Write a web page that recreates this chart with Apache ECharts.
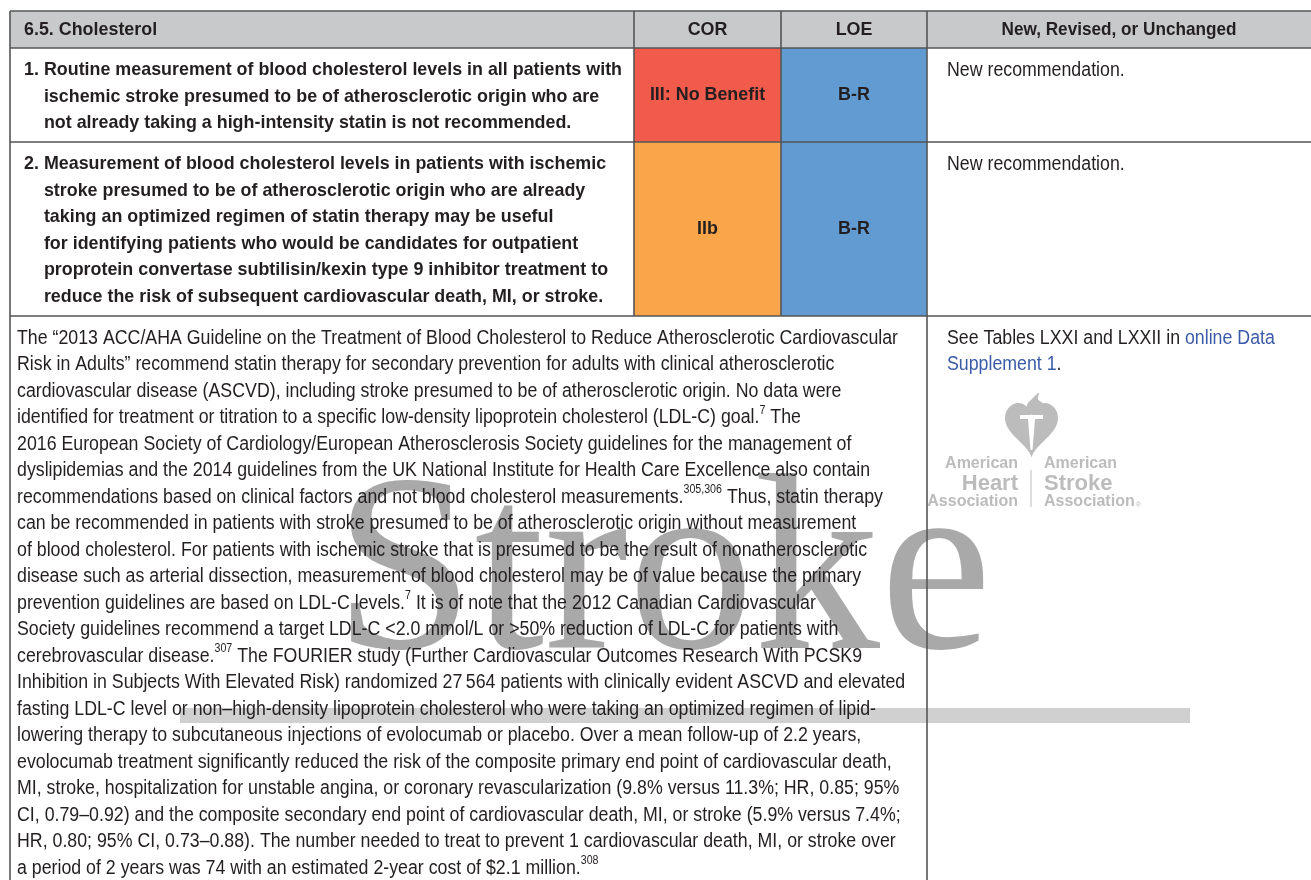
<!DOCTYPE html>
<html><head><meta charset="utf-8">
<script src="https://cdn.jsdelivr.net/npm/echarts@6/dist/echarts.min.js"></script>
<style>html,body{margin:0;padding:0;background:#fff}#c{width:1311px;height:880px}</style>
</head><body><div id="c"></div>
<script>
// ---------------- DATA ----------------
const headers = ['6.5. Cholesterol', 'COR', 'LOE', 'New, Revised, or Unchanged'];
const recNumbers = ['1.', '2.'];
const recLines = [
  ['Routine measurement of blood cholesterol levels in all patients with',
   'ischemic stroke presumed to be of atherosclerotic origin who are',
   'not already taking a high-intensity statin is not recommended.'],
  ['Measurement of blood cholesterol levels in patients with ischemic',
   'stroke presumed to be of atherosclerotic origin who are already',
   'taking an optimized regimen of statin therapy may be useful',
   'for identifying patients who would be candidates for outpatient',
   'proprotein convertase subtilisin/kexin type 9 inhibitor treatment to',
   'reduce the risk of subsequent cardiovascular death, MI, or stroke.']
];
const corLabels = ['III: No Benefit', 'IIb'];
const loeLabels = ['B-R', 'B-R'];
const statusLabels = ['New recommendation.', 'New recommendation.'];
// ^...^ = superscript, ~...~ = link
const evidenceLines = [
  'The \u201c2013 ACC/AHA Guideline on the Treatment of Blood Cholesterol to Reduce Atherosclerotic Cardiovascular',
  'Risk in Adults\u201d recommend statin therapy for secondary prevention for adults with clinical atherosclerotic',
  'cardiovascular disease (ASCVD), including stroke presumed to be of atherosclerotic origin. No data were',
  'identified for treatment or titration to a specific low-density lipoprotein cholesterol (LDL-C) goal.^7^ The',
  '2016 European Society of Cardiology/European Atherosclerosis Society guidelines for the management of',
  'dyslipidemias and the 2014 guidelines from the UK National Institute for Health Care Excellence also contain',
  'recommendations based on clinical factors and not blood cholesterol measurements.^305,306^ Thus, statin therapy',
  'can be recommended in patients with stroke presumed to be of atherosclerotic origin without measurement',
  'of blood cholesterol. For patients with ischemic stroke that is presumed to be the result of nonatherosclerotic',
  'disease such as arterial dissection, measurement of blood cholesterol may be of value because the primary',
  'prevention guidelines are based on LDL-C levels.^7^ It is of note that the 2012 Canadian Cardiovascular',
  'Society guidelines recommend a target LDL-C <2.0 mmol/L or >50% reduction of LDL-C for patients with',
  'cerebrovascular disease.^307^ The FOURIER study (Further Cardiovascular Outcomes Research With PCSK9',
  'Inhibition in Subjects With Elevated Risk) randomized 27\u2009564 patients with clinically evident ASCVD and elevated',
  'fasting LDL-C level or non\u2013high-density lipoprotein cholesterol who were taking an optimized regimen of lipid-',
  'lowering therapy to subcutaneous injections of evolocumab or placebo. Over a mean follow-up of 2.2 years,',
  'evolocumab treatment significantly reduced the risk of the composite primary end point of cardiovascular death,',
  'MI, stroke, hospitalization for unstable angina, or coronary revascularization (9.8% versus 11.3%; HR, 0.85; 95%',
  'CI, 0.79\u20130.92) and the composite secondary end point of cardiovascular death, MI, or stroke (5.9% versus 7.4%;',
  'HR, 0.80; 95% CI, 0.73\u20130.88). The number needed to treat to prevent 1 cardiovascular death, MI, or stroke over',
  'a period of 2 years was 74 with an estimated 2-year cost of $2.1 million.^308^'
];
const supportLines = ['See Tables LXXI and LXXII in ~online Data~', '~Supplement 1~.'];
const watermarkText = 'Stroke';
const logoLeft = ['American', 'Heart', 'Association'];
const logoRight = ['American', 'Stroke', 'Association'];

// ---------------- LAYOUT / STYLE ----------------
const L = {
  top: 11, cols: [10, 634, 781, 927, 1311], headerBottom: 48, rowBottoms: [142, 316], bottom: 880,
  lineH: 26.5, rowFirst: [70, 164], bodyFirst: 338, headerY: 30,
  recLeft: 24, bodyLeft: 17, rightLeft: 947,
  recRefEnd: 622, bodyRefEnd: 898
};
const C = {
  text: '#231f20', link: '#3b5ba8', header: '#c8c9cb', border: '#555555',
  cor: {'III: No Benefit': '#f15b4c', 'IIb': '#f9a64a'}, loe: '#629bd2',
  wm: '#a9a9a9', bar: '#d0d0d0', logo: '#bcbcbc'
};
const FF = '"Liberation Sans", Arial, Helvetica, sans-serif';
const F = {
  body: '20px ' + FF, bold: 'bold 19px ' + FF, sup: '12px ' + FF,
  wm: '252px "Liberation Serif", "DejaVu Serif", serif',
  logoS: 'bold 16px ' + FF, logoL: 'bold 22px ' + FF, reg: '7px ' + FF
};

const mctx = document.createElement('canvas').getContext('2d');
function tw(t, font) { mctx.font = font; return mctx.measureText(t).width; }
function runs(line) {
  const out = []; let cur = '', sup = false, link = false;
  for (const ch of line) {
    if (ch === '^' || ch === '~') {
      if (cur) out.push({t: cur, sup, link}); cur = '';
      if (ch === '^') sup = !sup; else link = !link;
    } else cur += ch;
  }
  if (cur) out.push({t: cur, sup, link});
  return out;
}
const plain = s => s.replace(/[\^~]/g, '');

const sxBody = (L.bodyRefEnd - L.bodyLeft) / tw(plain(evidenceLines[0]), F.body);
const sxBold = (L.recRefEnd - L.recLeft) / tw(recNumbers[0] + ' ' + recLines[0][0], F.bold);

const els = [];
function txt(t, x, y, font, sx, fill, align, z) {
  return {type: 'text', x, y, scaleX: sx, z: z || 10, silent: true,
    style: {text: t, font, fill, textAlign: align || 'left', textVerticalAlign: 'middle'}};
}
function lineEls(line, x, y, font, sx, color) {
  let cx = x;
  for (const r of runs(line)) {
    const f = r.sup ? F.sup : font;
    els.push(txt(r.t, cx, r.sup ? y - 7 : y, f, sx, r.link ? C.link : color));
    cx += tw(r.t, f) * sx;
  }
}
function rect(x, y, w, h, fill, z) {
  return {type: 'rect', z: z || 1, silent: true, shape: {x, y, width: w, height: h}, style: {fill}};
}
function line(x1, y1, x2, y2, z) {
  return {type: 'line', z: z || 20, silent: true, shape: {x1, y1, x2, y2}, style: {stroke: C.border, lineWidth: 1.6}};
}

// header
const cols = L.cols;
els.push(rect(cols[0], L.top, cols[4] - cols[0], L.headerBottom - L.top, C.header));
els.push(txt(headers[0], L.recLeft, L.headerY, F.bold, sxBold, C.text));
for (let i = 1; i < 4; i++) {
  els.push(txt(headers[i], (cols[i] + cols[i + 1]) / 2, L.headerY, F.bold, sxBold * (i === 3 ? 0.96 : 1), C.text, 'center'));
}

// recommendation rows
const rowTops = [L.headerBottom, L.rowBottoms[0]];
recLines.forEach((lines, r) => {
  const top = rowTops[r], bot = L.rowBottoms[r], mid = (top + bot) / 2;
  els.push(rect(cols[1], top, cols[2] - cols[1], bot - top, C.cor[corLabels[r]]));
  els.push(rect(cols[2], top, cols[3] - cols[2], bot - top, C.loe));
  const indent = tw(recNumbers[r] + ' ', F.bold) * sxBold;
  lines.forEach((ln, k) => {
    const y = L.rowFirst[r] + k * L.lineH;
    if (k === 0) els.push(txt(recNumbers[r] + ' ' + ln, L.recLeft, y, F.bold, sxBold, C.text));
    else els.push(txt(ln, L.recLeft + indent, y, F.bold, sxBold, C.text));
  });
  els.push(txt(corLabels[r], (cols[1] + cols[2]) / 2, mid, F.bold, sxBold, C.text, 'center'));
  els.push(txt(loeLabels[r], (cols[2] + cols[3]) / 2, mid, F.bold, sxBold, C.text, 'center'));
  els.push(txt(statusLabels[r], L.rightLeft, L.rowFirst[r], F.body, sxBody, C.text));
});

// watermark
els.push({type: 'text', x: 334, y: 708, z: 5, silent: true,
  style: {text: watermarkText, font: F.wm, fill: C.wm, textAlign: 'left', textVerticalAlign: 'bottom'}});
els.push(rect(180, 708, 1010, 15, C.bar, 4));

// evidence body
evidenceLines.forEach((ln, k) => lineEls(ln, L.bodyLeft, L.bodyFirst + k * L.lineH, F.body, sxBody, C.text));
supportLines.forEach((ln, k) => lineEls(ln, L.rightLeft, L.bodyFirst + k * L.lineH, F.body, sxBody, C.text));

// logo: heart outline from the classic parametric heart curve, fitted to its box
(function () {
  const raw = [];
  for (let i = 0; i < 120; i++) {
    const t = i / 120 * Math.PI * 2;
    raw.push([16 * Math.pow(Math.sin(t), 3),
      -(13 * Math.cos(t) - 5 * Math.cos(2 * t) - 2 * Math.cos(3 * t) - Math.cos(4 * t))]);
  }
  const xs = raw.map(p => p[0]), ys = raw.map(p => p[1]);
  const x0 = Math.min(...xs), x1 = Math.max(...xs), y0 = Math.min(...ys), y1 = Math.max(...ys);
  const bx = 1005, by = 403, bw = 53, bh = 55;
  const pts = raw.map(p => [bx + (p[0] - x0) / (x1 - x0) * bw, by + (p[1] - y0) / (y1 - y0) * bh]);
  els.push({type: 'polygon', z: 6, silent: true, shape: {points: pts}, style: {fill: C.logo}});
})();
els.push({type: 'polygon', z: 6, silent: true,
  shape: {points: [[1029, 413], [1027, 405], [1032, 399], [1039, 393], [1038, 399], [1043, 404], [1042, 413]], smooth: 0.4},
  style: {fill: C.logo}});
els.push(rect(1020, 415, 23, 4, '#ffffff', 7));
els.push({type: 'polygon', z: 7, silent: true, shape: {points: [[1028, 419], [1035, 419], [1032.5, 450], [1030.5, 450]]}, style: {fill: '#ffffff'}});
const logoY = [464, 484, 502];
[F.logoS, F.logoL, F.logoS].forEach((f, i) => {
  els.push(txt(logoLeft[i], 1018, logoY[i], f, 1, C.logo, 'right', 6));
  els.push(txt(logoRight[i], 1044, logoY[i], f, 1, C.logo, 'left', 6));
});
els.push(txt('\u00ae', 1044 + tw(logoRight[2], F.logoS) + 1, logoY[2] + 3, F.reg, 1, C.logo, 'left', 6));
els.push({type: 'line', z: 6, silent: true, shape: {x1: 1031, y1: 470, x2: 1031, y2: 507}, style: {stroke: C.logo, lineWidth: 1}});
els.push(rect(912, 490, 14.5, 22, '#ffffff', 8));

// borders
els.push(line(cols[0], L.top, cols[4], L.top));
els.push(line(cols[0], L.headerBottom, cols[4], L.headerBottom));
L.rowBottoms.forEach(y => els.push(line(cols[0], y, cols[4], y)));
els.push(line(cols[0], L.top, cols[0], L.bottom));
els.push(line(cols[1], L.top, cols[1], L.rowBottoms[1]));
els.push(line(cols[2], L.top, cols[2], L.rowBottoms[1]));
els.push(line(cols[3], L.top, cols[3], L.bottom));

const chart = echarts.init(document.getElementById('c'), null, {renderer: 'canvas'});
chart.setOption({animation: false, backgroundColor: '#ffffff', graphic: {elements: els}});
</script></body></html>
